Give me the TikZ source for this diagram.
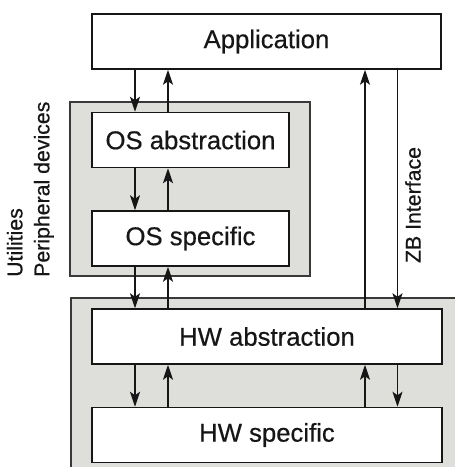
\documentclass[tikz,border=0pt]{standalone}
\usepackage{fontspec}
\setmainfont{Liberation Sans}
\newfontfamily\labelfont{Liberation Sans}[FakeBold=0.5]
\usetikzlibrary{arrows.meta}
\definecolor{panel}{RGB}{222,222,219}
\definecolor{ink}{RGB}{22,22,22}
\begin{document}
\begin{tikzpicture}[x=1pt,y=-1pt,
  blk/.style={draw=ink,line width=1.5pt,fill=white,minimum width=#1,
    minimum height=55pt,inner sep=0pt,text=ink,font=\labelfont\fontsize{25.7}{30}\selectfont},
  panelbox/.style={draw=ink!85,line width=1.5pt,fill=panel},
  arr/.style={draw=ink,line width=1.3pt,-{Stealth[length=15pt,width=10pt,inset=3.5pt]}},
  side/.style={text=ink,font=\labelfont\fontsize{21.3}{27}\selectfont,inner sep=0pt}]
\useasboundingbox (0,0) rectangle (455,467);
\clip (0,0) rectangle (455,467);
\fill[white] (0,0) rectangle (455,467);

% shaded layers
\draw[panelbox] (70,102) rectangle (310,276);
\draw[panelbox] (71,298) rectangle (470,490);

% blocks
\node[blk=349pt] (app) at (266.5,41.5) {Application};
\node[blk=197pt] (osa) at (190.5,140) {OS abstraction};
\node[blk=197pt] (oss) at (190.5,238.5) {OS specific};
\node[blk=350pt] (hwa) at (267,336.5) {HW abstraction};
\node[blk=350pt] (hws) at (267,435) {HW specific};

% arrow columns
\coordinate (c1) at (135,0);
\coordinate (c2) at (168,0);
\coordinate (c3) at (365,0);
\coordinate (c4) at (397.5,0);

\draw[arr] (app.south -| c1) -- (osa.north -| c1);
\draw[arr] (osa.north -| c2) -- (app.south -| c2);
\draw[arr] (osa.south -| c1) -- (oss.north -| c1);
\draw[arr] (oss.north -| c2) -- (osa.south -| c2);
\draw[arr] (oss.south -| c1) -- (hwa.north -| c1);
\draw[arr] (hwa.north -| c2) -- (oss.south -| c2);
\draw[arr] (hwa.north -| c3) -- (app.south -| c3);
\draw[arr] (app.south -| c4) -- (hwa.north -| c4);
\draw[arr] (hwa.south -| c1) -- (hws.north -| c1);
\draw[arr] (hws.north -| c2) -- (hwa.south -| c2);
\draw[arr] (hws.north -| c3) -- (hwa.south -| c3);
\draw[arr] (hwa.south -| c4) -- (hws.north -| c4);

% side labels
\node[side,rotate=90,align=left,anchor=south west] (util) at (54,277)
  {Utilities\\Peripheral devices};
\node[side,rotate=90] (zb) at (413,205) {ZB Interface};
\end{tikzpicture}
\end{document}
